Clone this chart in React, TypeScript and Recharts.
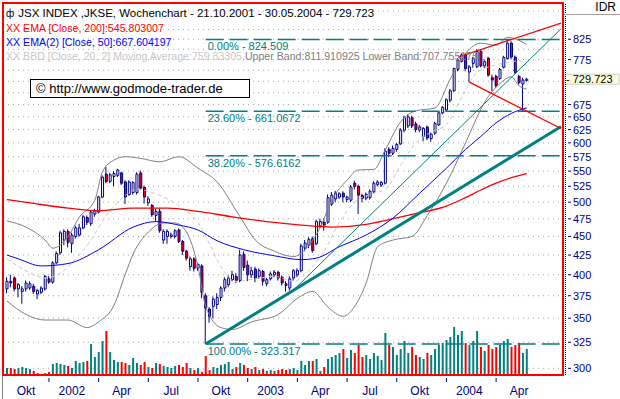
import { ComposedChart, Bar, Line, XAxis, YAxis, CartesianGrid, ReferenceLine, Cell } from 'recharts';

// JSX weekly candles, 21.10.2001 .. 30.05.2004 (137 weeks)
const opens = [
  383, 392, 396, 383, 380, 383, 384, 386, 377, 379,
  383, 395, 391, 415, 428, 445, 457, 440, 450, 452,
  462, 477, 468, 482, 485, 508, 545, 533, 541, 543,
  547, 532, 512, 515, 515, 547, 523, 499, 495, 480,
  486, 445, 450, 450, 450, 459, 443, 430, 410, 420,
  408, 411, 375, 360, 363, 365, 373, 384, 388, 394,
  398, 393, 426, 412, 400, 407, 398, 404, 389, 395,
  400, 403, 397, 389, 384, 396, 400, 405, 434, 438,
  447, 440, 465, 470, 470, 497, 505, 508, 514, 504,
  503, 530, 525, 510, 506, 507, 516, 528, 527, 530,
  588, 581, 588, 598, 624, 632, 648, 636, 624, 612,
  630, 608, 618, 634, 658, 664, 684, 704, 752, 771,
  786, 746, 766, 758, 795, 760, 778, 733, 736, 731,
  757, 778, 815, 781, 736, 719, 727,
];
const highs = [
  397, 400, 398, 390, 386, 393, 392, 389, 383, 386,
  400, 398, 417, 430, 458, 460, 460, 455, 465, 468,
  481, 480, 487, 490, 510, 543, 557, 547, 550, 554,
  549, 535, 535, 533, 548, 551, 526, 509, 497, 490,
  490, 460, 460, 455, 460, 461, 445, 432, 423, 422,
  415, 413, 378, 362, 374, 378, 386, 397, 399, 405,
  402, 432, 430, 418, 410, 410, 408, 406, 396, 404,
  406, 405, 399, 392, 398, 407, 408, 440, 445, 449,
  450, 474, 475, 476, 512, 516, 518, 516, 517, 510,
  527, 534, 528, 513, 515, 520, 533, 535, 534, 590,
  592, 595, 600, 628, 652, 655, 652, 640, 634, 630,
  633, 620, 640, 661, 672, 688, 708, 756, 778, 790,
  790, 762, 781, 800, 800, 775, 782, 740, 740, 755,
  784, 824.509, 820, 785, 740, 733, 733,
];
const lows = [
  378, 385, 380, 373, 366, 380, 382, 377, 371, 377,
  381, 389, 389, 413, 425, 438, 435, 428, 447, 450,
  460, 466, 465, 478, 483, 506, 530, 530, 525, 540,
  527, 497, 510, 512, 512, 519, 498, 494, 478, 472,
  455, 440, 440, 447, 447, 441, 425, 418, 405, 404,
  405, 372, 323.317, 345, 350, 360, 369, 380, 385, 392,
  390, 391, 405, 392, 396, 391, 395, 387, 386, 393,
  397, 393, 387, 380, 381, 393, 397, 403, 430, 434,
  428, 438, 462, 458, 468, 494, 500, 505, 500, 500,
  500, 520, 482, 500, 503, 504, 514, 525, 524, 528,
  575, 578, 584, 596, 620, 628, 628, 620, 620, 603,
  605, 602, 615, 632, 655, 660, 680, 702, 748, 768,
  748, 723, 756, 755, 757, 755, 735, 703, 710, 728,
  754, 775, 776, 742, 718, 661.0672, 724,
];
const closes = [
  392, 390, 383, 388, 383, 390, 389, 380, 381, 384,
  398, 391, 415, 427, 455, 457, 442, 452, 462, 462,
  478, 470, 485, 487, 508, 540, 533, 544, 546, 552,
  530, 508, 532, 531, 545, 522, 508, 505, 481, 486,
  458, 457, 457, 452, 458, 443, 430, 421, 420, 408,
  413, 379, 361, 352, 371, 373, 384, 394, 396, 400,
  393, 425, 409, 400, 405, 396, 405, 392, 394, 401,
  403, 396, 390, 387, 395, 405, 405, 437, 441, 446,
  431, 471, 471, 466, 507, 511, 514, 513, 508, 508,
  524, 525, 511, 506, 512, 517, 530, 532, 531, 585,
  581, 590, 597, 624, 648, 650, 632, 625, 630, 627,
  609, 616, 637, 658, 669, 685, 704, 754, 774, 786,
  754, 758, 778, 795, 760, 770, 739, 728, 715, 752,
  780, 815, 781, 745, 722, 728, 729.723,
];
const volumes = [
  7, 7, 6, 7, 8, 7, 6, 4, 2, 1,
  2, 3, 11, 12, 11, 10, 9, 7, 14, 12,
  13, 14, 31, 18, 23, 34, 44, 23, 15, 13,
  13, 12, 10, 17, 12, 10, 13, 8, 7, 12,
  11, 9, 8, 7, 9, 10, 8, 12, 7, 5,
  7, 3, 19, 5, 8, 7, 10, 11, 13, 6,
  8, 12, 10, 7, 6, 8, 5, 6, 4, 5,
  4, 5, 6, 5, 6, 7, 5, 14, 10, 14,
  14, 16, 4, 8, 16, 18, 20, 22, 26, 17,
  25, 22, 30, 18, 20, 16, 22, 19, 15, 42,
  30, 28, 20, 26, 34, 22, 28, 20, 18, 16,
  22, 20, 26, 30, 32, 35, 38, 48, 40, 44,
  32, 30, 34, 44, 28, 24, 30, 26, 28, 30,
  34, 36, 28, 30, 32, 22, 26,
];

// indicator lines as [week, value]
const ema200Pts = [
  [0, 504], [7, 498], [16, 491], [24, 487], [33, 491], [42, 491], [50, 486], [59, 478],
  [68, 471], [77, 466], [85, 463], [94, 467], [100, 474], [108, 484], [115, 494],
  [120, 507], [124, 519], [128, 530], [132, 539], [136, 546],
];
const ema50Pts = [
  [0, 425], [3, 420], [9, 411], [16, 414], [24, 432], [33, 463], [39, 471], [45, 466],
  [50, 459], [55, 444], [62, 432], [70, 424], [77, 419], [81, 421], [87, 436], [94, 452],
  [101, 476], [108, 514], [115, 555], [120, 588], [124, 612], [128, 638], [132, 657], [136, 668],
];
const bbUpperPts = [
  [0, 472], [5, 463], [10, 445], [12, 434], [16, 450], [19, 478], [23, 503], [25, 549],
  [28, 569], [31, 575], [35, 572], [40, 566], [45, 575], [50, 555], [55, 532], [61, 478],
  [65, 445], [70, 430], [75, 423], [78, 432], [82, 463], [85, 503], [89, 535], [92, 552],
  [96, 553], [99, 587], [103, 640], [107, 662], [112, 668], [116, 730], [120, 790],
  [124, 815], [128, 810], [131, 830], [134, 822], [136, 812],
];
const bbMidPts = [
  [0, 420], [5, 405], [10, 396], [14, 402], [18, 420], [22, 445], [26, 480], [30, 505],
  [34, 520], [38, 515], [42, 505], [46, 490], [50, 470], [53, 440], [56, 410], [60, 392],
  [65, 395], [70, 398], [75, 392], [79, 405], [83, 430], [87, 470], [91, 500], [95, 512],
  [99, 520], [103, 560], [107, 600], [111, 620], [115, 635], [119, 690], [123, 745],
  [127, 760], [131, 768], [134, 772], [136, 760],
];
const bbLowerPts = [
  [0, 369], [5, 354], [10, 348], [16, 348], [21, 340], [24, 346], [28, 364], [31, 401],
  [33, 426], [37, 456], [41, 469], [44, 469], [47, 456], [50, 410], [52, 363], [56, 340],
  [59, 338], [64, 346], [71, 354], [76, 372], [80, 380], [84, 362], [88, 352], [91, 363],
  [94, 390], [97, 436], [101, 445], [106, 450], [110, 480], [115, 530], [120, 600],
  [125, 680], [129, 720], [132, 735], [134, 715], [136, 708],
];

// fibonacci retracement
const fibValues = [824.509, 661.0672, 576.6162, 323.317];
const fibLabels = ['0.00% - 824.509', '23.60% - 661.0672', '38.20% - 576.6162', '100.00% - 323.317'];
const fibStart = 52;

// trend lines [week, value] -> [week, value]
const trendThick = [[52, 323.317], [145, 631]];
const trendThin = [[75, 381.7], [145, 852]];
const wedgeUpper = [[118, 781], [145, 867]];
const wedgeLower = [[121, 723], [145, 627]];

// axes
const gridValues = [300, 325, 350, 375, 400, 425, 450, 475, 500, 525, 550, 575, 600, 625, 650, 675, 700, 725, 750, 775, 800, 825, 850, 900];
const priceLabels = [300, 325, 350, 375, 400, 425, 450, 475, 500, 525, 550, 575, 600, 625, 650, 675, 775, 825];
const lastPrice = 729.723;
const xLabelWeeks = [5, 17, 30, 43, 56, 69, 82, 95, 108, 121, 134];
const xLabels = ['Okt', '2002', 'Apr', 'Jul', 'Okt', '2003', 'Apr', 'Jul', 'Okt', '2004', 'Apr'];

const EMPTY_WEEKS = 9;
const W = 620;
const H = 399;
const PLOT_W = 560;
const PLOT_BOTTOM = 375;
const NAVY = '#000080';
const TEAL = '#008080';
const FONT = '"Liberation Sans", Arial, sans-serif';

const lookup = (pts: number[][]) => new Map(pts.map(([i, v]) => [i, v]));
const ema200 = lookup(ema200Pts);
const ema50 = lookup(ema50Pts);
const bbU = lookup(bbUpperPts);
const bbM = lookup(bbMidPts);
const bbL = lookup(bbLowerPts);

const data = Array.from({ length: opens.length + EMPTY_WEEKS }, (_, i) => {
  const row: any = { i, ema200: ema200.get(i), ema50: ema50.get(i), bbU: bbU.get(i), bbM: bbM.get(i), bbL: bbL.get(i) };
  if (i < opens.length) {
    row.up = closes[i] >= opens[i];
    row.wick = [lows[i], highs[i]];
    row.body = [Math.min(opens[i], closes[i]), Math.max(opens[i], closes[i])];
    row.vol = volumes[i];
  }
  return row;
});

const bandW = (PLOT_W - 2) / data.length;

const PriceTick = ({ x, y, payload }: any) => {
  if (!priceLabels.includes(payload.value)) return null;
  return (
    <g>
      <line x1={x + 3} x2={x + 6} y1={y} y2={y} stroke={NAVY} />
      <text x={x + 8} y={y + 4} fill={NAVY} fontSize={11} fontFamily={FONT}>{payload.value}</text>
    </g>
  );
};

// tick mark at the start of each quarter, label in the middle of it
const WeekTick = ({ x, index }: any) => {
  const tx = x - 6 * bandW;
  return (
    <g>
      {tx > 4 && <line x1={tx} x2={tx} y1={PLOT_BOTTOM + 3} y2={PLOT_BOTTOM + 7} stroke={NAVY} />}
      <text x={x} y={PLOT_BOTTOM + 20} textAnchor="middle" fill={NAVY} fontSize={12} fontFamily={FONT}>
        {xLabels[index]}
      </text>
    </g>
  );
};

const fibLabel = (text: string) => (p: any) => (
  <text x={p.viewBox.x + 2} y={p.viewBox.y + 11} fill={TEAL} fontSize={11} fontFamily={FONT}>{text}</text>
);

const priceBox = (p: any) => {
  const x = p.viewBox.x + p.viewBox.width;
  const y = p.viewBox.y;
  return (
    <g>
      <rect x={x + 2} y={y - 5} width={54} height={10} fill="#ffffe1" stroke="#d0d0c0" />
      <text x={x + 3} y={y + 4} fill="#000" fontSize={11} fontFamily={FONT}>- {lastPrice}</text>
    </g>
  );
};

const seg = (s: number[][]) => [{ x: s[0][0], y: s[0][1] }, { x: s[1][0], y: s[1][1] }];

export default function App() {
  return (
    <div style={{ position: 'absolute', left: 0, top: 0, width: W, height: H, background: '#fff', fontFamily: FONT, overflow: 'hidden' }}>
      <ComposedChart width={W} height={H} data={data} margin={{ top: 3, right: 0, bottom: 0, left: 3 }}>
        <CartesianGrid yAxisId="p" xAxisId="x" vertical={false} stroke="#a8a8a8" strokeDasharray="1 4" />
        <XAxis
          xAxisId="x"
          dataKey="i"
          ticks={xLabelWeeks}
          interval={0}
          tick={<WeekTick />}
          tickLine={false}
          tickSize={0}
          axisLine={{ stroke: '#808080' }}
          padding={{ left: 2, right: 0 }}
          height={24}
        />
        <XAxis xAxisId="w" dataKey="i" hide padding={{ left: 2, right: 0 }} />
        <XAxis xAxisId="b" dataKey="i" hide padding={{ left: 2, right: 0 }} />
        <YAxis
          yAxisId="p"
          orientation="right"
          scale="log"
          domain={[293.9, 922.3]}
          allowDataOverflow
          ticks={gridValues}
          interval={0}
          tick={<PriceTick />}
          tickLine={false}
          tickSize={0}
          axisLine={false}
          width={57}
        />
        <YAxis yAxisId="v" hide domain={[0, 372]} />

        <Bar xAxisId="x" yAxisId="v" dataKey="vol" barSize={2} isAnimationActive={false}>
          {data.map((d) => <Cell key={d.i} fill={d.up ? TEAL : '#ff0000'} />)}
        </Bar>

        <Line xAxisId="x" yAxisId="p" dataKey="bbU" stroke="#808080" strokeWidth={1} dot={false} connectNulls type="monotone" isAnimationActive={false} />
        <Line xAxisId="x" yAxisId="p" dataKey="bbL" stroke="#808080" strokeWidth={1} dot={false} connectNulls type="monotone" isAnimationActive={false} />
        <Line xAxisId="x" yAxisId="p" dataKey="bbM" stroke="#c8c8c8" strokeWidth={1} strokeDasharray="4 3" dot={false} connectNulls type="monotone" isAnimationActive={false} />
        <Line xAxisId="x" yAxisId="p" dataKey="ema200" stroke="#ff0000" strokeWidth={1.3} dot={false} connectNulls type="monotone" isAnimationActive={false} />
        <Line xAxisId="x" yAxisId="p" dataKey="ema50" stroke="#0000ff" strokeWidth={1} dot={false} connectNulls type="monotone" isAnimationActive={false} />

        <Bar xAxisId="w" yAxisId="p" dataKey="wick" barSize={1} fill={NAVY} isAnimationActive={false} />
        <Bar xAxisId="b" yAxisId="p" dataKey="body" barSize={2} stroke={NAVY} strokeWidth={1} isAnimationActive={false}>
          {data.map((d) => <Cell key={d.i} fill={d.up ? '#ffffff' : '#ff0000'} />)}
        </Bar>

        {fibValues.map((v, k) => (
          <ReferenceLine
            key={v}
            xAxisId="x"
            yAxisId="p"
            segment={[{ x: fibStart, y: v }, { x: data.length - 1, y: v }]}
            stroke={TEAL}
            strokeWidth={1.5}
            strokeDasharray="18 6"
            label={fibLabel(fibLabels[k])}
          />
        ))}
        <ReferenceLine xAxisId="x" yAxisId="p" segment={seg(trendThick)} stroke={TEAL} strokeWidth={3} />
        <ReferenceLine xAxisId="x" yAxisId="p" segment={seg(trendThin)} stroke={TEAL} strokeWidth={1} />
        <ReferenceLine xAxisId="x" yAxisId="p" segment={seg(wedgeUpper)} stroke="#ff0000" strokeWidth={1.3} />
        <ReferenceLine xAxisId="x" yAxisId="p" segment={seg(wedgeLower)} stroke="#ff0000" strokeWidth={1.3} />
        <ReferenceLine xAxisId="x" yAxisId="p" y={lastPrice} stroke="none" label={priceBox} />
      </ComposedChart>

      {/* frame, axis line and header */}
      <div style={{ position: 'absolute', left: 2, top: 2, width: 562, height: 374, border: '2px solid #ff0000', boxSizing: 'border-box', pointerEvents: 'none' }} />
      <div style={{ position: 'absolute', left: 565, top: 4, height: 371, borderLeft: '1px dotted #000' }} />
      <div style={{ position: 'absolute', left: 2, top: 376, height: 23, borderLeft: '1px solid #808080' }} />
      <div style={{ position: 'absolute', left: 564, top: 0, width: 56, height: 15, borderBottom: '1px solid #a0a0a0', fontSize: 12, textAlign: 'right', paddingRight: 4, boxSizing: 'border-box', lineHeight: '15px' }}>IDR</div>

      <div style={{ position: 'absolute', left: 6, top: 6, fontSize: 10.6, lineHeight: '14px', whiteSpace: 'nowrap' }}>
        <div style={{ color: '#000', fontSize: 11.5 }}>
          <span style={{ fontSize: 10, marginRight: 4 }}>ф</span>JSX INDEX ,JKSE, Wochenchart - 21.10.2001 - 30.05.2004 - 729.723
        </div>
        <div style={{ color: '#ff0000' }}>XX EMA [Close, 200]:545.803007</div>
        <div style={{ color: '#0000ff' }}>XX EMA(2) [Close, 50]:667.604197</div>
        <div>
          <span style={{ color: '#c8c8c8' }}>XX BBD [Close, 20, 2] Moving Average:759.83305 </span>
          <span style={{ color: '#808080' }}>Upper Band:811.910925 Lower Band:707.755175</span>
        </div>
      </div>

      <div style={{ position: 'absolute', left: 30, top: 79, width: 220, height: 19, border: '1px solid #000', background: '#fff', boxSizing: 'border-box', fontSize: 13, lineHeight: '17px', paddingLeft: 5, whiteSpace: 'nowrap' }}>
        © http://www.godmode-trader.de
      </div>
    </div>
  );
}
